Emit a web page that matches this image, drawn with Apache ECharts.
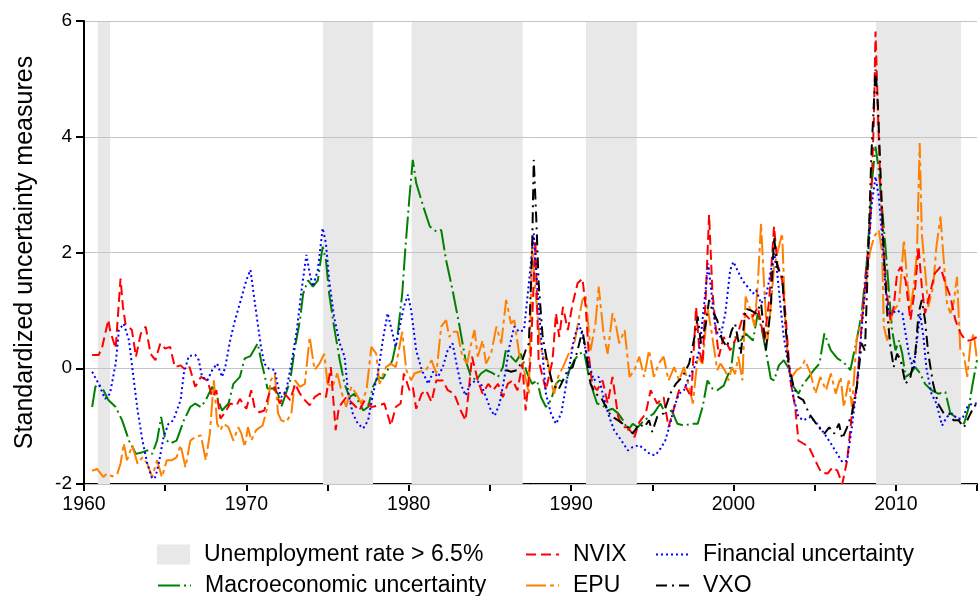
<!DOCTYPE html>
<html>
<head>
<meta charset="utf-8">
<script src="https://cdn.jsdelivr.net/npm/echarts/dist/echarts.min.js"></script>
<style>
  html, body { margin: 0; padding: 0; background: #fff; }
  #chart { width: 980px; height: 596px; }
</style>
</head>
<body>
<div id="chart"></div>
<script>
'use strict';
// Standardized uncertainty measures, 1960-2015. Values as [year, value].

const yearTicks = [1960, 1970, 1980, 1990, 2000, 2010];

// periods with unemployment rate > 6.5% (shaded)
const highUnemployment = [
  [1960.85, 1961.6], [1974.72, 1977.8], [1980.18, 1987.02], [1990.92, 1994.05], [2008.78, 2014.02],
];

const macro = [
  [1960.5,-0.67],[1960.7,-0.32],[1960.9,-0.27],[1961.2,-0.38],[1961.5,-0.55],[1961.95,-0.67],[1962.35,-0.9],[1962.77,-1.25],
  [1963.2,-1.48],[1963.6,-1.45],[1963.9,-1.42],[1964.2,-1.48],[1964.5,-1.25],[1964.75,-0.84],[1965.0,-1.22],[1965.3,-1.3],
  [1965.7,-1.25],[1966.15,-0.9],[1966.55,-0.67],[1966.85,-0.61],[1967.2,-0.67],[1967.5,-0.55],[1967.9,-0.32],[1968.2,-0.5],
  [1968.5,-0.73],[1968.9,-0.61],[1969.2,-0.27],[1969.6,-0.15],[1969.9,0.17],[1970.25,0.21],[1970.7,0.43],[1970.9,0.14],
  [1971.1,-0.09],[1971.3,-0.35],[1971.65,-0.35],[1971.95,-0.44],[1972.15,-0.67],[1972.36,-0.5],[1972.7,-0.21],[1973.0,0.37],
  [1973.3,0.83],[1973.5,1.29],[1973.8,1.52],[1974.1,1.41],[1974.4,1.52],[1974.7,2.1],[1974.9,1.87],[1975.1,1.29],
  [1975.4,0.72],[1975.75,0.14],[1976.05,-0.27],[1976.35,-0.5],[1976.65,-0.44],[1976.97,-0.61],[1977.2,-0.73],[1977.5,-0.67],
  [1977.8,-0.32],[1978.1,-0.15],[1978.4,-0.18],[1978.7,-0.03],[1979.0,0.14],[1979.3,0.54],[1979.6,1.29],[1979.8,2.1],
  [1980.05,2.97],[1980.25,3.6],[1980.46,3.2],[1980.9,2.79],[1981.3,2.45],[1981.7,2.36],[1982.0,2.39],[1982.3,1.87],
  [1982.7,1.35],[1983.1,0.77],[1983.5,0.14],[1983.8,-0.12],[1984.15,-0.21],[1984.45,-0.09],[1984.76,-0.03],[1985.2,-0.09],
  [1985.5,-0.15],[1985.8,0.02],[1986.0,0.34],[1986.3,0.2],[1986.6,0.11],[1986.9,0.25],[1987.3,-0.09],[1987.6,-0.27],
  [1987.9,-0.21],[1988.15,-0.5],[1988.45,-0.67],[1988.76,-0.55],[1989.07,-0.27],[1989.27,-0.21],[1989.7,-0.24],[1989.9,-0.03],
  [1990.2,0.14],[1990.5,0.25],[1990.8,0.28],[1991.1,-0.15],[1991.4,-0.44],[1991.6,-0.61],[1991.94,-0.64],[1992.25,-0.73],
  [1992.55,-0.7],[1992.9,-0.78],[1993.2,-0.9],[1993.5,-1.07],[1993.8,-0.96],[1994.1,-1.02],[1994.4,-0.93],[1994.8,-0.84],
  [1995.1,-0.78],[1995.5,-0.61],[1995.8,-0.78],[1996.2,-0.73],[1996.55,-0.96],[1996.95,-0.99],[1997.4,-0.96],[1997.8,-0.96],
  [1998.1,-0.67],[1998.4,-0.21],[1998.7,-0.35],[1999.0,-0.38],[1999.4,-0.3],[1999.7,-0.09],[1999.9,0.1],[2000.1,0.54],
  [2000.45,0.48],[2000.75,0.6],[2001.2,0.48],[2001.5,0.95],[2001.8,0.6],[2002.1,0.14],[2002.3,-0.18],[2002.5,-0.21],
  [2002.8,0.05],[2003.1,0.14],[2003.4,0.0],[2003.7,-0.32],[2004.0,-0.44],[2004.3,-0.27],[2004.65,-0.15],[2004.95,-0.03],
  [2005.3,0.08],[2005.6,0.6],[2006.0,0.31],[2006.4,0.17],[2006.8,0.1],[2007.2,-0.03],[2007.6,0.5],[2007.9,0.95],
  [2008.2,1.8],[2008.4,2.6],[2008.5,3.14],[2008.75,3.83],[2008.95,3.43],[2009.16,2.74],[2009.36,2.1],[2009.57,1.35],
  [2009.77,0.66],[2009.98,0.31],[2010.2,0.48],[2010.4,0.25],[2010.6,-0.15],[2010.9,-0.09],[2011.2,0.02],[2011.5,-0.09],
  [2011.8,-0.27],[2012.2,-0.38],[2012.6,-0.44],[2013.05,-0.41],[2013.36,-0.78],[2013.67,-0.84],[2014.0,-0.9],[2014.2,-0.96],
  [2014.5,-0.67],[2014.7,-0.32],[2015.0,0.14],
];

const epu = [
  [1960.5,-1.77],[1960.8,-1.74],[1961.2,-1.88],[1961.4,-1.82],[1961.75,-1.87],[1962.05,-1.82],[1962.25,-1.65],[1962.45,-1.3],
  [1962.65,-1.59],[1962.97,-1.33],[1963.3,-1.65],[1963.6,-1.54],[1963.9,-1.65],[1964.2,-1.88],[1964.5,-1.59],[1964.8,-1.88],
  [1965.1,-1.59],[1965.4,-1.59],[1965.7,-1.54],[1965.95,-1.33],[1966.25,-1.71],[1966.55,-1.25],[1966.85,-1.19],[1967.2,-1.16],
  [1967.5,-1.59],[1967.75,-1.13],[1968.0,-0.21],[1968.2,-0.96],[1968.4,-1.07],[1968.6,-0.96],[1968.9,-1.02],[1969.2,-1.25],
  [1969.5,-1.02],[1969.7,-1.13],[1969.9,-1.36],[1970.1,-1.02],[1970.3,-1.25],[1970.6,-1.07],[1971.0,-0.99],[1971.3,-0.67],
  [1971.5,-0.21],[1971.75,-0.09],[1971.95,-0.78],[1972.15,-0.9],[1972.46,-0.93],[1972.77,-0.78],[1973.0,-0.21],[1973.3,-0.32],
  [1973.6,-0.27],[1973.9,0.54],[1974.2,-0.03],[1974.5,0.08],[1974.8,0.25],[1975.0,-0.27],[1975.3,-0.32],[1975.6,-0.09],
  [1975.95,-0.5],[1976.15,-0.67],[1976.46,-0.32],[1976.77,-0.44],[1977.07,-0.61],[1977.4,-0.38],[1977.7,0.37],[1978.0,0.25],
  [1978.2,-0.27],[1978.6,0.02],[1978.9,0.08],[1979.2,0.02],[1979.6,0.63],[1979.85,-0.03],[1980.15,-0.21],[1980.36,-0.09],
  [1980.66,-0.06],[1981.07,-0.03],[1981.4,0.14],[1981.7,-0.09],[1982.0,0.72],[1982.3,0.83],[1982.5,0.54],[1982.7,0.63],
  [1983.0,0.63],[1983.3,0.2],[1983.6,0.08],[1983.8,0.37],[1984.05,0.66],[1984.25,0.2],[1984.55,0.48],[1984.76,0.08],
  [1985.07,0.25],[1985.4,0.72],[1985.7,0.43],[1986.0,1.18],[1986.3,0.77],[1986.5,0.83],[1986.8,0.25],[1987.1,-0.03],
  [1987.4,-0.44],[1987.6,2.16],[1987.8,1.35],[1988.05,0.54],[1988.25,0.2],[1988.55,0.14],[1988.75,-0.21],[1988.96,-0.44],
  [1989.2,-0.15],[1989.5,0.02],[1989.8,0.22],[1990.2,0.43],[1990.5,0.89],[1990.7,1.18],[1990.9,1.24],[1991.2,0.31],
  [1991.5,0.77],[1991.7,1.41],[1992.0,0.6],[1992.25,0.25],[1992.55,0.95],[1992.75,0.77],[1992.96,0.43],[1993.3,0.66],
  [1993.6,-0.15],[1993.9,-0.03],[1994.2,0.2],[1994.5,-0.15],[1994.8,0.31],[1995.1,-0.15],[1995.4,0.08],[1995.7,0.2],
  [1996.0,-0.21],[1996.35,0.02],[1996.65,-0.21],[1996.95,0.02],[1997.27,-0.32],[1997.5,-0.61],[1997.8,0.2],[1998.1,0.08],
  [1998.4,1.06],[1998.7,0.54],[1999.0,-0.03],[1999.2,0.08],[1999.5,-0.05],[1999.7,-0.21],[1999.9,0.02],[2000.1,-0.1],
  [2000.3,0.2],[2000.55,-0.21],[2000.75,1.24],[2001.06,1.0],[2001.3,0.72],[2001.5,1.47],[2001.7,2.5],[2001.9,1.35],
  [2002.1,0.48],[2002.3,1.06],[2002.5,1.75],[2002.8,2.1],[2003.0,2.33],[2003.2,0.77],[2003.4,-0.03],[2003.6,-0.15],
  [2003.9,-0.03],[2004.2,0.02],[2004.4,0.14],[2004.75,-0.09],[2005.05,-0.44],[2005.35,-0.15],[2005.7,-0.38],[2006.0,-0.09],
  [2006.3,-0.44],[2006.6,-0.15],[2006.8,-0.67],[2007.1,-0.21],[2007.3,-0.67],[2007.6,0.54],[2007.9,0.83],[2008.2,1.52],
  [2008.4,1.99],[2008.65,2.27],[2008.95,2.39],[2009.16,1.99],[2009.26,0.72],[2009.47,0.48],[2009.67,0.83],[2009.87,1.0],
  [2010.2,1.12],[2010.5,2.22],[2010.7,1.52],[2010.9,1.0],[2011.1,1.41],[2011.3,1.99],[2011.47,3.89],[2011.6,2.33],
  [2011.8,1.7],[2012.0,1.06],[2012.3,1.41],[2012.5,2.1],[2012.75,2.62],[2012.95,1.87],[2013.15,1.12],[2013.36,0.95],
  [2013.56,1.12],[2013.77,1.58],[2013.97,0.31],[2014.18,0.25],[2014.4,-0.15],[2014.6,0.43],[2014.8,0.6],[2015.0,0.14],
];

const nvix = [
  [1960.5,0.23],[1960.9,0.23],[1961.1,0.34],[1961.5,0.84],[1961.6,0.66],[1961.95,0.34],[1962.25,1.55],[1962.4,1.06],
  [1962.55,0.77],[1962.95,0.66],[1963.2,0.2],[1963.5,0.6],[1963.8,0.72],[1964.1,0.25],[1964.4,0.14],[1964.7,0.43],
  [1965.0,0.34],[1965.3,0.37],[1965.6,0.02],[1965.95,0.05],[1966.25,-0.03],[1966.5,0.02],[1966.85,-0.32],[1967.2,-0.15],
  [1967.6,-0.21],[1967.9,-0.5],[1968.15,-0.38],[1968.4,-0.87],[1968.7,-0.76],[1969.0,-0.61],[1969.4,-0.64],[1969.6,-0.53],
  [1970.0,-0.7],[1970.3,-0.38],[1970.5,-0.67],[1970.8,-0.76],[1971.1,-0.73],[1971.4,-0.44],[1971.75,-0.32],[1972.05,-0.61],
  [1972.36,-0.44],[1972.7,-0.55],[1973.0,-0.27],[1973.3,-0.44],[1973.6,-0.55],[1973.9,-0.64],[1974.2,-0.5],[1974.5,-0.44],
  [1974.9,-0.5],[1975.2,0.02],[1975.5,-1.07],[1975.7,-0.67],[1976.15,-0.5],[1976.55,-0.61],[1976.95,-0.73],[1977.3,-0.55],
  [1977.7,-0.67],[1978.2,-0.64],[1978.5,-0.61],[1978.9,-0.99],[1979.2,-0.67],[1979.5,-0.61],[1979.7,-0.09],[1980.05,-0.38],
  [1980.25,-0.32],[1980.46,-0.7],[1980.8,-0.44],[1981.07,-0.38],[1981.4,-0.58],[1981.7,-0.21],[1982.1,-0.21],[1982.4,-0.38],
  [1982.8,-0.44],[1983.2,-0.73],[1983.5,-0.9],[1983.7,-0.38],[1983.9,0.2],[1984.25,-0.21],[1984.55,-0.44],[1984.9,-0.27],
  [1985.2,-0.38],[1985.5,-0.27],[1985.8,-0.5],[1986.1,-0.27],[1986.4,-0.21],[1986.7,-0.38],[1987.0,0.08],[1987.2,-0.73],
  [1987.5,0.14],[1987.8,2.2],[1988.0,0.14],[1988.45,-0.38],[1988.86,0.14],[1989.07,0.95],[1989.27,0.54],[1989.5,1.06],
  [1989.8,0.66],[1990.1,1.12],[1990.4,1.47],[1990.7,1.55],[1990.9,1.06],[1991.1,0.2],[1991.3,-0.27],[1991.6,-0.38],
  [1991.94,-0.21],[1992.25,-0.61],[1992.55,-0.15],[1992.9,-0.84],[1993.2,-1.02],[1993.5,-1.02],[1993.9,-1.19],[1994.2,-0.93],
  [1994.6,-0.78],[1994.9,-0.38],[1995.3,-0.61],[1995.7,-0.5],[1996.0,-1.02],[1996.3,-0.73],[1996.65,-0.38],[1997.06,-0.32],
  [1997.4,-0.5],[1997.7,1.06],[1997.9,0.31],[1998.1,0.08],[1998.3,1.29],[1998.5,2.65],[1998.7,1.35],[1998.9,0.72],
  [1999.1,0.2],[1999.4,0.54],[1999.8,0.31],[2000.2,0.54],[2000.65,0.95],[2001.06,0.83],[2001.5,1.06],[2001.9,0.48],
  [2002.2,1.18],[2002.5,2.45],[2002.7,1.81],[2003.0,1.52],[2003.2,0.95],[2003.5,-0.2],[2003.8,-0.67],[2004.0,-1.25],
  [2004.3,-1.3],[2004.65,-1.36],[2004.95,-1.54],[2005.4,-1.8],[2005.8,-1.82],[2006.1,-1.71],[2006.4,-1.77],[2006.7,-2.0],
  [2007.0,-1.6],[2007.3,-0.78],[2007.6,-0.3],[2007.8,0.4],[2008.0,1.1],[2008.13,1.52],[2008.44,2.56],[2008.65,4.3],
  [2008.75,5.82],[2008.85,4.87],[2008.95,4.0],[2009.05,3.14],[2009.26,1.99],[2009.47,1.24],[2009.67,0.83],[2009.87,1.06],
  [2010.08,1.64],[2010.3,1.75],[2010.6,1.52],[2010.9,0.83],[2011.2,1.41],[2011.4,2.1],[2011.6,1.41],[2011.8,0.95],
  [2012.1,1.29],[2012.4,1.64],[2012.75,1.75],[2013.05,1.47],[2013.36,1.24],[2013.67,0.83],[2014.0,0.6],[2014.3,0.48],
  [2014.6,0.48],[2015.0,0.54],
];

const financial = [
  [1960.5,-0.06],[1960.9,-0.27],[1961.3,-0.53],[1961.6,-0.44],[1961.95,0.08],[1962.15,0.66],[1962.45,0.77],[1962.77,0.48],
  [1962.97,0.02],[1963.3,-0.73],[1963.6,-1.25],[1963.9,-1.65],[1964.2,-1.91],[1964.4,-1.88],[1964.6,-1.65],[1964.9,-1.19],
  [1965.2,-0.96],[1965.5,-0.9],[1965.95,-0.55],[1966.15,-0.09],[1966.45,0.21],[1966.85,0.23],[1967.07,0.14],[1967.27,-0.15],
  [1967.6,-0.21],[1967.9,-0.03],[1968.2,0.08],[1968.5,-0.15],[1968.7,0.02],[1969.0,0.48],[1969.3,0.83],[1969.6,1.12],
  [1970.0,1.52],[1970.25,1.7],[1970.5,1.18],[1970.7,0.77],[1970.9,0.37],[1971.1,0.08],[1971.4,-0.01],[1971.75,-0.03],
  [1971.95,-0.32],[1972.15,-0.5],[1972.46,-0.38],[1972.77,0.08],[1973.08,0.6],[1973.4,1.35],[1973.7,1.96],[1973.9,1.64],
  [1974.1,1.41],[1974.4,1.7],[1974.7,2.42],[1974.9,2.16],[1975.1,1.52],[1975.4,0.89],[1975.75,0.43],[1976.05,0.2],
  [1976.25,-0.38],[1976.55,-0.78],[1976.87,-0.96],[1977.2,-1.04],[1977.5,-0.9],[1977.8,-0.44],[1978.1,-0.09],[1978.4,0.48],
  [1978.7,0.95],[1978.9,0.72],[1979.2,0.37],[1979.4,0.66],[1979.7,1.06],[1979.95,1.27],[1980.15,1.0],[1980.46,0.31],
  [1980.8,-0.03],[1981.2,-0.27],[1981.5,-0.06],[1981.8,-0.15],[1982.1,0.02],[1982.4,0.31],[1982.7,0.43],[1982.9,0.14],
  [1983.2,-0.27],[1983.5,-0.47],[1983.8,-0.27],[1984.15,-0.21],[1984.45,-0.27],[1984.76,-0.5],[1985.07,-0.73],[1985.3,-0.82],
  [1985.6,-0.61],[1985.9,-0.15],[1986.2,0.37],[1986.5,0.72],[1986.8,0.63],[1987.1,0.66],[1987.4,1.47],[1987.7,2.33],
  [1987.9,1.47],[1988.15,0.54],[1988.45,-0.44],[1988.76,-0.78],[1989.07,-0.96],[1989.4,-0.78],[1989.7,-0.27],[1989.9,0.05],
  [1990.2,0.54],[1990.5,0.77],[1990.8,0.43],[1991.1,0.08],[1991.4,-0.21],[1991.7,-0.15],[1992.0,-0.5],[1992.35,-0.84],
  [1992.65,-1.07],[1993.1,-1.25],[1993.5,-1.42],[1993.8,-1.36],[1994.2,-1.33],[1994.6,-1.42],[1994.9,-1.49],[1995.2,-1.5],
  [1995.5,-1.39],[1995.8,-1.25],[1996.1,-0.96],[1996.35,-0.67],[1996.65,-0.44],[1996.95,-0.38],[1997.27,-0.15],[1997.6,0.02],
  [1997.9,0.31],[1998.2,1.12],[1998.45,1.81],[1998.65,1.29],[1998.9,0.66],[1999.2,0.54],[1999.5,0.95],[1999.8,1.7],
  [2000.0,1.84],[2000.2,1.72],[2000.55,1.52],[2000.86,1.41],[2001.2,1.29],[2001.4,1.35],[2001.7,1.12],[2002.0,1.24],
  [2002.2,1.52],[2002.5,1.99],[2002.7,1.64],[2002.9,1.06],[2003.1,0.54],[2003.4,0.02],[2003.7,-0.5],[2004.0,-0.84],
  [2004.3,-0.9],[2004.75,-0.84],[2005.15,-0.96],[2005.6,-1.13],[2006.0,-1.3],[2006.4,-1.48],[2006.7,-1.62],[2007.0,-1.6],
  [2007.3,-1.0],[2007.6,-0.32],[2007.9,0.7],[2008.3,1.99],[2008.5,2.79],[2008.75,3.31],[2008.95,2.97],[2009.16,2.27],
  [2009.36,1.41],[2009.57,0.95],[2009.77,0.95],[2010.08,1.0],[2010.4,0.95],[2010.6,0.6],[2010.8,0.25],[2011.1,-0.03],
  [2011.3,0.48],[2011.5,0.95],[2011.7,0.54],[2011.9,-0.03],[2012.2,-0.44],[2012.5,-0.61],[2012.85,-0.99],[2013.15,-0.84],
  [2013.46,-0.78],[2013.77,-0.87],[2014.1,-0.87],[2014.4,-0.67],[2014.7,-0.61],[2015.0,-0.61],
];

const vxo = [
  [1986.0,-0.03],[1986.3,-0.06],[1986.7,-0.03],[1987.0,0.14],[1987.2,0.31],[1987.4,0.43],[1987.6,2.04],[1987.7,3.6],
  [1987.85,2.62],[1988.0,1.47],[1988.25,0.54],[1988.55,0.08],[1988.86,-0.27],[1989.2,-0.38],[1989.5,-0.21],[1989.8,-0.03],
  [1990.1,0.02],[1990.4,0.31],[1990.7,0.66],[1990.9,0.31],[1991.2,-0.27],[1991.5,-0.44],[1991.84,-0.5],[1992.15,-0.67],
  [1992.45,-0.82],[1992.9,-0.9],[1993.2,-0.96],[1993.5,-1.02],[1993.8,-1.13],[1994.2,-0.96],[1994.5,-1.02],[1994.8,-0.9],
  [1995.0,-1.1],[1995.3,-0.84],[1995.7,-0.78],[1996.1,-0.44],[1996.45,-0.27],[1996.85,-0.15],[1997.27,0.08],[1997.6,0.54],
  [1997.8,0.89],[1998.0,0.43],[1998.3,0.77],[1998.5,1.18],[1998.7,1.0],[1999.0,0.83],[1999.3,0.49],[1999.6,0.37],
  [1999.9,0.66],[2000.1,0.77],[2000.45,0.25],[2000.75,1.03],[2001.06,1.0],[2001.4,0.95],[2001.7,1.12],[2002.0,0.31],
  [2002.3,1.06],[2002.5,2.27],[2002.7,1.75],[2003.0,1.58],[2003.2,0.77],[2003.4,0.08],[2003.7,-0.32],[2004.0,-0.5],
  [2004.3,-0.55],[2004.65,-0.78],[2004.95,-0.9],[2005.26,-1.02],[2005.6,-1.13],[2005.9,-1.02],[2006.2,-1.13],[2006.5,-0.96],
  [2006.7,-1.22],[2007.0,-1.02],[2007.3,-0.78],[2007.6,-0.32],[2007.9,0.43],[2008.1,0.3],[2008.3,1.99],[2008.5,3.72],
  [2008.75,5.16],[2008.9,4.53],[2009.05,3.43],[2009.26,1.99],[2009.47,0.95],[2009.67,0.37],[2009.87,0.02],[2010.08,0.25],
  [2010.3,0.14],[2010.6,-0.27],[2010.9,-0.15],[2011.2,0.25],[2011.4,0.95],[2011.6,1.18],[2011.8,0.83],[2012.0,0.25],
  [2012.3,-0.27],[2012.6,-0.61],[2012.95,-0.78],[2013.26,-0.78],[2013.56,-0.9],[2013.87,-0.9],[2014.2,-1.02],[2014.5,-0.84],
  [2014.8,-0.67],[2015.0,-0.61],
];

const FONT = '"Liberation Sans", Arial, Helvetica, sans-serif';
const BAND = '#e8e8e8';
const BAND_NAME = 'Unemployment rate > 6.5%';

// name, data, colour, dash pattern
const lines = [
  ['Macroeconomic uncertainty', macro, '#008000', [22, 4, 2, 4]],
  ['EPU', epu, '#ff8000', [20, 4, 4, 4]],
  ['NVIX', nvix, '#ff0000', [10, 5]],
  ['Financial uncertainty', financial, '#0000ff', [2, 3]],
  ['VXO', vxo, '#000000', [11, 5, 2, 5]],
];

const series = [{
  name: BAND_NAME, type: 'line', data: [], z: 1,
  color: BAND, symbol: 'none',
  markArea: {
    silent: true, itemStyle: { color: BAND },
    data: highUnemployment.map(([a, b]) => [{ xAxis: a }, { xAxis: b }]),
  },
}];
lines.forEach(([name, data, color, dash], i) => series.push({
  name, type: 'line', data, z: 5 + i, color, symbol: 'none', showSymbol: false,
  lineStyle: { color, width: 2, type: dash },
}));

// one legend per entry so each sits exactly where the figure has it (2 rows x 3 columns)
const legendSlots = [
  [BAND_NAME, 157, 543],
  ['Macroeconomic uncertainty', 157, 574],
  ['NVIX', 525, 543],
  ['EPU', 525, 574],
  ['Financial uncertainty', 655, 543],
  ['VXO', 655, 574],
];
const legends = legendSlots.map(([name, left, top]) => ({
  left, top, padding: 0, itemWidth: 33, itemHeight: 20, selectedMode: false,
  data: [name === BAND_NAME ? { name, icon: 'rect', itemStyle: { color: BAND } } : name],
  itemStyle: name === BAND_NAME ? {} : { opacity: 0 },
  textStyle: { fontFamily: FONT, fontSize: 23, color: '#000', padding: [0, 0, 0, 9] },
}));

const chart = echarts.init(document.getElementById('chart'), null, { renderer: 'canvas' });
chart.setOption({
  animation: false,
  backgroundColor: '#fff',
  grid: { left: 84, right: 1, top: 21, bottom: 112 },
  xAxis: {
    type: 'value', min: 1960, max: 2015, interval: 5,
    axisLine: { onZero: false, lineStyle: { color: '#000', width: 2 } },
    axisTick: { length: 7, lineStyle: { color: '#000', width: 2 } },
    axisLabel: {
      fontFamily: FONT, fontSize: 19.5, color: '#000', margin: 11,
      formatter: (v) => (yearTicks.includes(v) ? String(v) : ''),
    },
    splitLine: { show: false },
  },
  yAxis: {
    type: 'value', min: -2, max: 6, interval: 2, z: 3,
    name: 'Standardized uncertainty measures', nameLocation: 'middle', nameGap: 46,
    nameTextStyle: { fontFamily: FONT, fontSize: 25, color: '#000' },
    axisLine: { show: true, onZero: false, lineStyle: { color: '#000', width: 2 } },
    axisTick: { show: true, length: 8, lineStyle: { color: '#000', width: 2 } },
    axisLabel: { fontFamily: FONT, fontSize: 19, color: '#000', margin: 12 },
    splitLine: { lineStyle: { color: '#c4c4c4', width: 1 } },
  },
  legend: legends,
  series,
});
</script>
</body>
</html>
